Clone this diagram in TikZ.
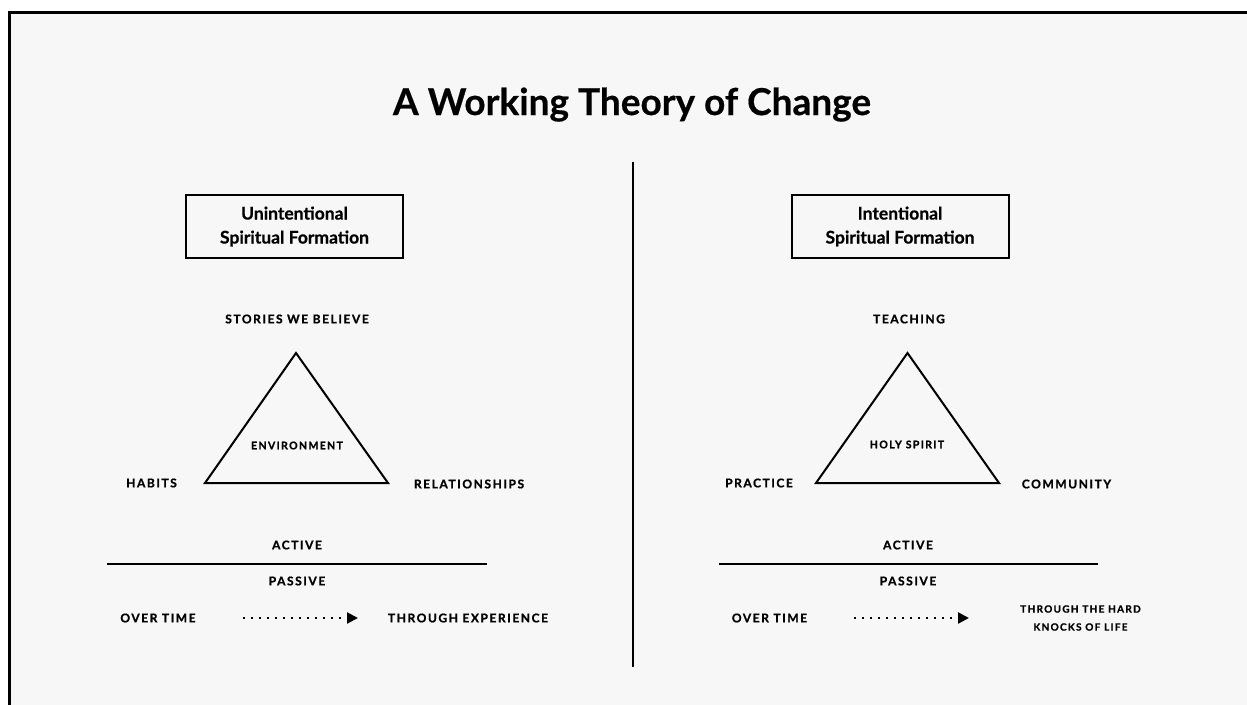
\documentclass[tikz,border=0pt]{standalone}
\usepackage{fontspec}
\setmainfont{Lato}[BoldFeatures={FakeBold=0.5}]
\newfontfamily\capsfont{Lato}[LetterSpace=13, BoldFeatures={FakeBold=1}]
\usetikzlibrary{arrows.meta}
\definecolor{paper}{HTML}{F7F7F7}
\tikzset{
  tag/.style={font=\capsfont\bfseries\fontsize{12}{12}\selectfont, inner sep=0pt},
  smalltag/.style={font=\capsfont\bfseries\fontsize{10}{18}\selectfont, inner sep=0pt, align=center},
  kindbox/.style={draw, line width=2pt, minimum width=217pt, minimum height=63pt, align=center,
    inner sep=0pt, font=\bfseries\fontsize{17.5}{24}\selectfont},
  edge/.style={line width=2pt, line join=miter},
  drift/.style={line width=2.2pt, dash pattern=on 2.2pt off 5.8pt, -{Triangle[length=11pt,width=11pt]}}
}
\begin{document}
\begin{tikzpicture}[x=1pt, y=-1pt]
  \useasboundingbox (0,0) rectangle (1247,704);
  % Draw the page frame
  \fill[white] (0,0) rectangle (1247,704);
  \draw[fill=paper, line width=3pt] (9.5,12) rectangle (1270,730);
  \node[anchor=base, font=\bfseries\fontsize{37}{40}\selectfont] (title) at (632,115) {A Working Theory of Change};
  % Draw the divider
  \coordinate (divtop) at (633,162);
  \coordinate (divbot) at (633,667);
  \draw[line width=2pt] (divtop) -- (divbot);

  % Left half
  \node[kindbox] (ubox) at (294.5,226.5) {Unintentional\\Spiritual Formation};
  \coordinate (ua) at (296,353);
  \coordinate (ul) at (205,483);
  \coordinate (ur) at (388,483);
  \draw[edge] (ua) -- (ul) -- (ur) -- cycle;
  \node[tag] (stories) at (297,319) {STORIES WE BELIEVE};
  \node[tag, font=\capsfont\bfseries\fontsize{10.5}{12}\selectfont] (environment) at (297,445.5) {ENVIRONMENT};
  \node[tag] (habits) at (151.5,483) {HABITS};
  \node[tag] (relationships) at (469,484) {RELATIONSHIPS};
  \coordinate (uline1) at (107,563.5);
  \coordinate (uline2) at (487,563.5);
  \draw[line width=2pt] (uline1) -- (uline2);
  \node[tag] (uactive) at (297,545) {ACTIVE};
  \node[tag] (upassive) at (297,581) {PASSIVE};
  \node[tag] (utime) at (158,618) {OVER TIME};
  \node[tag] (uexp) at (468,618) {THROUGH EXPERIENCE};
  \coordinate (uarr1) at (243,618);
  \coordinate (uarr2) at (358,618);
  \draw[drift] (uarr1) -- (uarr2);

  % Right half
  \node[kindbox] (ibox) at (900,226.5) {Intentional\\Spiritual Formation};
  \coordinate (ia) at (907.5,353);
  \coordinate (il) at (816,483);
  \coordinate (ir) at (999,483);
  \draw[edge] (ia) -- (il) -- (ir) -- cycle;
  \node[tag] (teaching) at (909,319) {TEACHING};
  \node[tag, font=\capsfont\bfseries\fontsize{10.5}{12}\selectfont] (spirit) at (907,444.5) {HOLY SPIRIT};
  \node[tag] (practice) at (759,483) {PRACTICE};
  \node[tag] (community) at (1066.5,484) {COMMUNITY};
  \coordinate (iline1) at (719,563.5);
  \coordinate (iline2) at (1098,563.5);
  \draw[line width=2pt] (iline1) -- (iline2);
  \node[tag] (iactive) at (908,545) {ACTIVE};
  \node[tag] (ipassive) at (908,581) {PASSIVE};
  \node[tag] (itime) at (769.5,618) {OVER TIME};
  \node[smalltag] (iknocks) at (1080.5,618) {THROUGH THE HARD\\KNOCKS OF LIFE};
  \coordinate (iarr1) at (854,618);
  \coordinate (iarr2) at (969,618);
  \draw[drift] (iarr1) -- (iarr2);
\end{tikzpicture}
\end{document}
